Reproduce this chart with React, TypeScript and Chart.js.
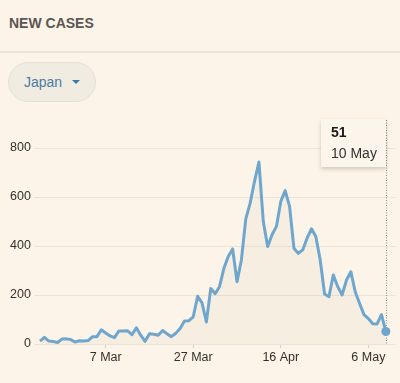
import React, { useEffect, useRef } from 'react';
import { Chart, registerables } from 'chart.js';

Chart.register(...registerables);

// Daily new cases, Japan, 21 Feb .. 10 May (one value per day)
const newCases: number[] = [
  12, 27, 12, 10, 6, 20, 21, 18, 8, 13, 12, 14, 30, 30, 58, 45, 33, 26, 53, 53, 54, 38, 66,
  36, 11, 42, 40, 36, 55, 42, 30, 44, 63, 94, 95, 111, 195, 168, 90, 227, 205, 234, 309, 357, 388, 254, 343, 511, 575, 664,
  743, 500, 398, 446, 480, 582, 626, 562, 391, 370, 384, 432, 470, 439, 343, 204, 193, 282, 234, 200, 261, 295, 213, 165, 120, 104, 83, 82, 120, 51,
];
const tickDays: number[] = [15, 35, 55, 75];
const tickLabels: string[] = ['7 Mar', '27 Mar', '16 Apr', '6 May'];
const yTicks: number[] = [0, 200, 400, 600, 800];
const tooltipValue = '51';
const tooltipDate = '10 May';
const countryName = 'Japan';
const title = 'NEW CASES';

const FONT = '"Liberation Sans", Arial, Helvetica, sans-serif';
const BG = '#fcf4e9';
const LINE = '#6fa6cd';

const tipPlugin = {
  id: 'fixedTip',
  beforeDatasetsDraw(chart: any) {
    const meta = chart.getDatasetMeta(0);
    const pt = meta.data[meta.data.length - 1];
    const ctx = chart.ctx;
    const x = Math.round(pt.x) + 0.5;
    ctx.save();
    ctx.setLineDash([1, 1.5]);
    ctx.strokeStyle = '#8f8a84';
    ctx.lineWidth = 1;
    ctx.beginPath();
    ctx.moveTo(x, 10);
    ctx.lineTo(x, chart.chartArea.bottom);
    ctx.stroke();
    ctx.restore();
  },
  afterDatasetsDraw(chart: any) {
    const meta = chart.getDatasetMeta(0);
    const pt = meta.data[meta.data.length - 1];
    const ctx = chart.ctx;
    const w = 65;
    const h = 48;
    const left = Math.round(pt.x) - w;
    const top = 9;
    ctx.save();
    ctx.shadowColor = 'rgba(60,40,20,0.22)';
    ctx.shadowBlur = 4;
    ctx.shadowOffsetY = 1.5;
    ctx.fillStyle = '#fcf5ec';
    ctx.beginPath();
    ctx.rect(left, top, w, h);
    ctx.fill();
    ctx.restore();
    ctx.save();
    ctx.textBaseline = 'middle';
    ctx.textAlign = 'left';
    ctx.fillStyle = '#1c1a19';
    ctx.font = `bold 14px ${FONT}`;
    ctx.fillText(tooltipValue, left + 10, top + 14);
    ctx.fillStyle = '#33302e';
    ctx.font = `14px ${FONT}`;
    ctx.fillText(tooltipDate, left + 10, top + 35);
    ctx.restore();
  },
};

function NewCasesChart() {
  const ref = useRef<HTMLCanvasElement | null>(null);
  useEffect(() => {
    if (!ref.current) return;
    const n = newCases.length;
    const chart = new Chart(ref.current, {
      type: 'line',
      data: {
        datasets: [
          {
            data: newCases.map((v, i) => ({ x: i, y: v })),
            borderColor: LINE,
            borderWidth: 3,
            borderJoinStyle: 'round',
            backgroundColor: 'rgba(120,95,70,0.04)',
            fill: 'origin',
            tension: 0,
            pointRadius: newCases.map((_, i) => (i === n - 1 ? 4.5 : 0)),
            pointBackgroundColor: LINE,
            pointBorderWidth: 0,
          },
        ],
      },
      options: {
        animation: false,
        responsive: true,
        maintainAspectRatio: false,
        events: [],
        layout: { padding: { top: 38, left: 7, right: 0, bottom: 16 } },
        plugins: { legend: { display: false }, tooltip: { enabled: false } },
        scales: {
          x: {
            type: 'linear',
            min: -1.41,
            max: 81.2,
            afterBuildTicks: (axis: any) => {
              axis.ticks = tickDays.map((v) => ({ value: v }));
            },
            ticks: {
              autoSkip: false,
              maxRotation: 0,
              padding: 2,
              color: '#33302e',
              font: { family: FONT, size: 12.5 },
              callback: (v: any) => {
                const idx = tickDays.indexOf(Number(v));
                return idx >= 0 ? tickLabels[idx] : '';
              },
            },
            grid: { drawOnChartArea: false, drawTicks: true, tickLength: 4, color: '#d9d0c4' },
            border: { display: false },
          },
          y: {
            min: 0,
            max: 800,
            afterBuildTicks: (axis: any) => {
              axis.ticks = yTicks.map((v) => ({ value: v }));
            },
            ticks: {
              padding: 3,
              color: '#33302e',
              font: { family: FONT, size: 12.5 },
            },
            grid: { color: '#ece3d7', drawTicks: false, lineWidth: 1 },
            border: { display: false },
          },
        },
      },
      plugins: [tipPlugin],
    } as any);
    return () => chart.destroy();
  }, []);
  return <canvas ref={ref} />;
}

export default function App() {
  return (
    <div
      style={{
        position: 'fixed',
        left: 0,
        top: 0,
        width: 400,
        height: 383,
        background: BG,
        fontFamily: FONT,
        overflow: 'hidden',
      }}
    >
      <div
        style={{
          position: 'absolute',
          left: 9,
          top: 14,
          fontSize: 14,
          fontWeight: 'bold',
          color: '#5b5652',
          lineHeight: '18px',
        }}
      >
        {title}
      </div>
      <div style={{ position: 'absolute', left: 0, top: 51, width: 400, height: 1.5, background: '#ebe2d6' }} />
      <div
        style={{
          position: 'absolute',
          left: 8,
          top: 62,
          width: 88,
          height: 40,
          boxSizing: 'border-box',
          borderRadius: 20,
          background: '#f1ece2',
          border: '1px solid #e7e0d4',
        }}
      >
        <span
          style={{
            position: 'absolute',
            left: 15,
            top: 11,
            fontSize: 14,
            lineHeight: '17px',
            color: '#4a7da3',
          }}
        >
          {countryName}
        </span>
        <div
          style={{
            position: 'absolute',
            left: 63,
            top: 17,
            width: 0,
            height: 0,
            borderLeft: '4.5px solid transparent',
            borderRight: '4.5px solid transparent',
            borderTop: '4.5px solid #3c78a7',
          }}
        />
      </div>
      <div style={{ position: 'absolute', left: 0, top: 110, width: 400, height: 273 }}>
        <NewCasesChart />
      </div>
    </div>
  );
}
